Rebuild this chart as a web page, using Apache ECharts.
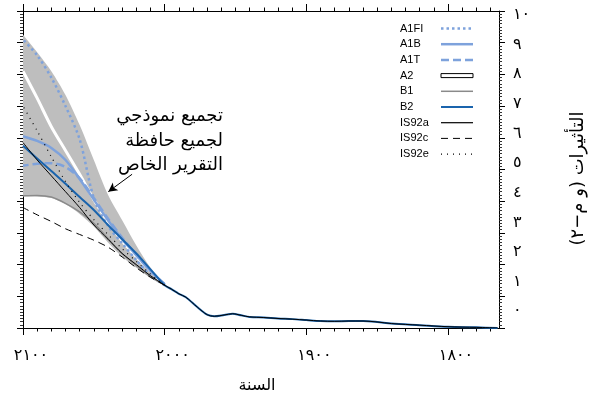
<!DOCTYPE html>
<html><head><meta charset="utf-8">
<script src="https://cdn.jsdelivr.net/npm/echarts@6/dist/echarts.min.js"></script>
<style>html,body{margin:0;padding:0;background:#fff}#c{width:605px;height:395px}</style>
</head><body><div id="c"></div>
<script>
// ---------- data ----------
const histYears   = [1765,1780,1800,1820,1840,1850,1860,1870,1880,1890,1900,1910,1920,1930,1940,1946,1952,1958,1965,1970,1977,1985,1990,1995,2000];
const histForcing = [0.0,0.02,0.04,0.09,0.14,0.19,0.22,0.22,0.21,0.22,0.25,0.28,0.30,0.33,0.35,0.40,0.45,0.41,0.37,0.42,0.66,0.97,1.08,1.22,1.35];

const futureYears = [2000,2010,2020,2030,2040,2050,2060,2070,2080,2090,2100];
const A1FI  = [1.35,1.66,2.14,2.67,3.22,4.10,5.95,7.00,7.90,8.60,9.10];
const A1B   = [1.38,1.80,2.30,2.80,3.40,4.05,4.70,5.30,5.68,5.90,6.05];
const A1T   = [1.38,1.80,2.30,2.85,3.45,4.10,4.72,5.08,5.20,5.18,5.12];
const A2    = [1.38,1.80,2.25,2.75,3.35,4.05,4.85,5.60,6.35,7.25,8.10];
const B1    = [1.35,1.62,1.97,2.35,2.82,3.30,3.66,3.93,4.13,4.18,4.17];
const B2    = [1.35,1.85,2.35,2.80,3.25,3.72,4.13,4.55,4.95,5.35,5.75];
const IS92a = [1.35,1.65,2.00,2.35,2.80,3.25,3.80,4.30,4.80,5.30,5.85];
const IS92c = [1.35,1.60,1.90,2.24,2.55,2.77,2.95,3.13,3.36,3.57,3.80];
const IS92e = [1.35,1.70,2.10,2.50,2.95,3.42,3.96,4.62,5.40,6.22,7.00];
const envelopeLow  = [1.33,1.58,1.90,2.25,2.70,3.20,3.60,3.90,4.10,4.15,4.15];
const envelopeHigh = [1.40,1.90,2.60,3.40,4.20,5.30,6.40,7.35,8.10,8.70,9.25];

const majorYears = [1800,1900,2000,2100];
const minorYears = [1770,1780,1790,1810,1820,1830,1840,1850,1860,1870,1880,1890,1910,1920,1930,1940,1950,1960,1970,1980,1990,2010,2020,2030,2040,2050,2060,2070,2080,2090];
const yLabelValues = [0,1,2,3,4,5,6,7,8,9,10];

const annotationLines = ['تجميع نموذجي','لجميع حافظة','التقرير الخاص'];
const arrowFrom = [2023, 4.85];
const arrowTo   = [2039.8, 4.30];

const xTitle = 'السنة';
const yTitle = 'التأثيرات (و م−٢)';

// ---------- helpers ----------
const arabicDigits = ['٠','١','٢','٣','٤','٥','٦','٧','٨','٩'];
const toArabic = v => String(v).replace(/\d/g, d => arabicDigits[+d]);
const zip = (xs, ys) => xs.map((x, i) => [x, ys[i]]);
const withHist = vals => zip(histYears, histForcing).concat(zip(futureYears.slice(1), vals.slice(1)));

const LB = '#7ea2dc', DB = '#1a64ad', GR = '#8a8a8a';
const arabicFont = 'DejaVu Sans';
const latinFont = 'Liberation Sans';

function line(name, data, color, width, type, extra) {
  return Object.assign({
    name, type: 'line', data, xAxisIndex: 0, yAxisIndex: 0,
    symbol: 'none', smooth: 0.3, silent: true, emphasis: {disabled: true},
    lineStyle: {color, width, type}, itemStyle: {color}
  }, extra || {});
}

const xBase = {type: 'value', min: 1764, max: 2100, inverse: true, gridIndex: 0, splitLine: {show: false}};
const blackLine = {color: '#000', width: 1};

const option = {
  animation: false,
  backgroundColor: '#fff',
  grid: {left: 23, right: 106, top: 11, bottom: 67, containLabel: false, outerBoundsMode: 'none'},
  xAxis: [
    Object.assign({}, xBase, {
      position: 'bottom',
      axisLine: {show: true, onZero: false, lineStyle: blackLine},
      axisTick: {show: true, customValues: majorYears, length: 7, lineStyle: {color: '#000'}},
      axisLabel: {customValues: majorYears, formatter: toArabic, fontSize: 16, fontFamily: arabicFont, color: '#000', margin: 20, padding: [0, 0, 0, 16]},
      name: xTitle, nameLocation: 'middle', nameGap: 50,
      nameTextStyle: {fontSize: 16, fontFamily: arabicFont, color: '#000', padding: [0, 8, 0, 0]}
    }),
    Object.assign({}, xBase, {
      position: 'bottom', axisLine: {show: false, onZero: false},
      axisTick: {show: true, customValues: minorYears, length: 3.5, lineStyle: {color: '#000'}},
      axisLabel: {show: false}
    }),
    Object.assign({}, xBase, {
      position: 'top', axisLine: {show: true, onZero: false, lineStyle: blackLine},
      axisTick: {show: true, customValues: majorYears, length: 7, lineStyle: {color: '#000'}},
      axisLabel: {show: false}
    }),
    Object.assign({}, xBase, {
      position: 'top', axisLine: {show: false, onZero: false},
      axisTick: {show: true, customValues: minorYears, length: 3.5, lineStyle: {color: '#000'}},
      axisLabel: {show: false}
    })
  ],
  yAxis: [
    {type: 'value', position: 'left', min: 0, max: 10, interval: 1,
     axisLine: {show: true, onZero: false, lineStyle: blackLine},
     axisTick: {show: true, length: 6, lineStyle: {color: '#000'}},
     minorTick: {show: true, splitNumber: 10, length: 3, lineStyle: {color: '#333'}},
     axisLabel: {show: false}, splitLine: {show: false}, minorSplitLine: {show: false}},
    {type: 'value', position: 'right', min: 0, max: 10, interval: 1,
     axisLine: {show: true, onZero: false, lineStyle: blackLine},
     axisTick: {show: true, length: 6, lineStyle: {color: '#000'}},
     minorTick: {show: true, splitNumber: 10, length: 3, lineStyle: {color: '#333'}},
     axisLabel: {show: false}, splitLine: {show: false}, minorSplitLine: {show: false}},
    {type: 'value', position: 'right', min: -0.564, max: 10.135,
     axisLine: {show: false, onZero: false}, axisTick: {show: false}, splitLine: {show: false},
     axisLabel: {customValues: yLabelValues, formatter: toArabic, fontSize: 16, fontFamily: arabicFont, color: '#000', margin: 14},
     name: yTitle, nameLocation: 'middle', nameGap: 70,
     nameTextStyle: {fontSize: 18, fontFamily: arabicFont, color: '#000', padding: [0, 18, 0, 0]}}
  ],
  legend: {
    orient: 'vertical', left: 400, top: 23, padding: 0,
    itemWidth: 32, itemHeight: 10, itemGap: 4.7, align: 'right',
    selectedMode: false,
    formatter: n => '{t|' + n + '}',
    textStyle: {color: '#000', fontFamily: latinFont, fontSize: 11, lineHeight: 10,
      rich: {t: {width: 36, align: 'left', fontSize: 11, lineHeight: 10, fontFamily: latinFont, color: '#000'}}},
    itemStyle: {opacity: 0},
    data: [
      {name: 'A1FI', lineStyle: {width: 2.5}},
      {name: 'A1B', lineStyle: {width: 2.5}},
      {name: 'A1T', lineStyle: {width: 2.5}},
      {name: 'A2', icon: 'path://M0,0H32V4H0Z', itemStyle: {color: '#fff', borderColor: '#000', borderWidth: 1, opacity: 1}},
      {name: 'B1', lineStyle: {width: 1.5}},
      {name: 'B2', lineStyle: {width: 2}},
      {name: 'IS92a', lineStyle: {width: 1.2}},
      {name: 'IS92c', lineStyle: {width: 1}},
      {name: 'IS92e', lineStyle: {width: 1.2}}
    ]
  },
  graphic: annotationLines.map((t, i) => ({
    type: 'text', x: 223, y: 116.7 + i * 24.2, silent: true,
    style: {text: t, align: 'right', verticalAlign: 'middle', font: '18px "DejaVu Sans"', fill: '#000'}
  })),
  series: [
    {name: 'envelope', type: 'custom', silent: true, clip: true, xAxisIndex: 0, yAxisIndex: 0,
     data: futureYears.map((y, i) => [y, envelopeLow[i], envelopeHigh[i]]),
     encode: {x: 0, y: [1, 2]},
     renderItem: function (params, api) {
       if (params.dataIndex !== 0) return null;
       const up = futureYears.map((y, i) => api.coord([y, envelopeHigh[i]]));
       const lo = futureYears.map((y, i) => api.coord([y, envelopeLow[i]])).reverse();
       const n = up.length;
       const pts = [up[0], up[0]].concat(up.slice(1, n - 1), [up[n - 1], up[n - 1], lo[0], lo[0]], lo.slice(1, n - 1), [lo[n - 1], lo[n - 1]]);
       return {type: 'polygon', shape: {points: pts, smooth: 0.3}, style: {fill: '#bebebe', stroke: null}};
     }},
    line('A2', zip(futureYears, A2), '#ffffff', 3, 'solid'),
    line('A1FI', zip(futureYears, A1FI), LB, 2.5, [2.5, 3]),
    line('A1B', zip(futureYears, A1B), LB, 2.5, 'solid'),
    line('A1T', zip(futureYears, A1T), LB, 2.5, [8, 4]),
    line('B1', zip(futureYears, B1), GR, 1.5, 'solid'),
    line('B2', withHist(B2), DB, 2, 'solid'),
    line('IS92a', withHist(IS92a), '#000', 1, 'solid'),
    line('IS92c', zip(futureYears, IS92c), '#000', 1, [7, 5]),
    line('IS92e', zip(futureYears, IS92e), '#000', 1.2, [1, 5], {
      markLine: {silent: true, animation: false, symbol: ['none', 'arrow'], symbolSize: [7, 9],
        lineStyle: {color: '#000', width: 1, type: 'solid'}, label: {show: false}, emphasis: {disabled: true},
        data: [[{coord: arrowFrom}, {coord: arrowTo}]]}
    })
  ]
};

const chart = echarts.init(document.getElementById('c'), null, {renderer: 'canvas'});
chart.setOption(option);
</script></body></html>
